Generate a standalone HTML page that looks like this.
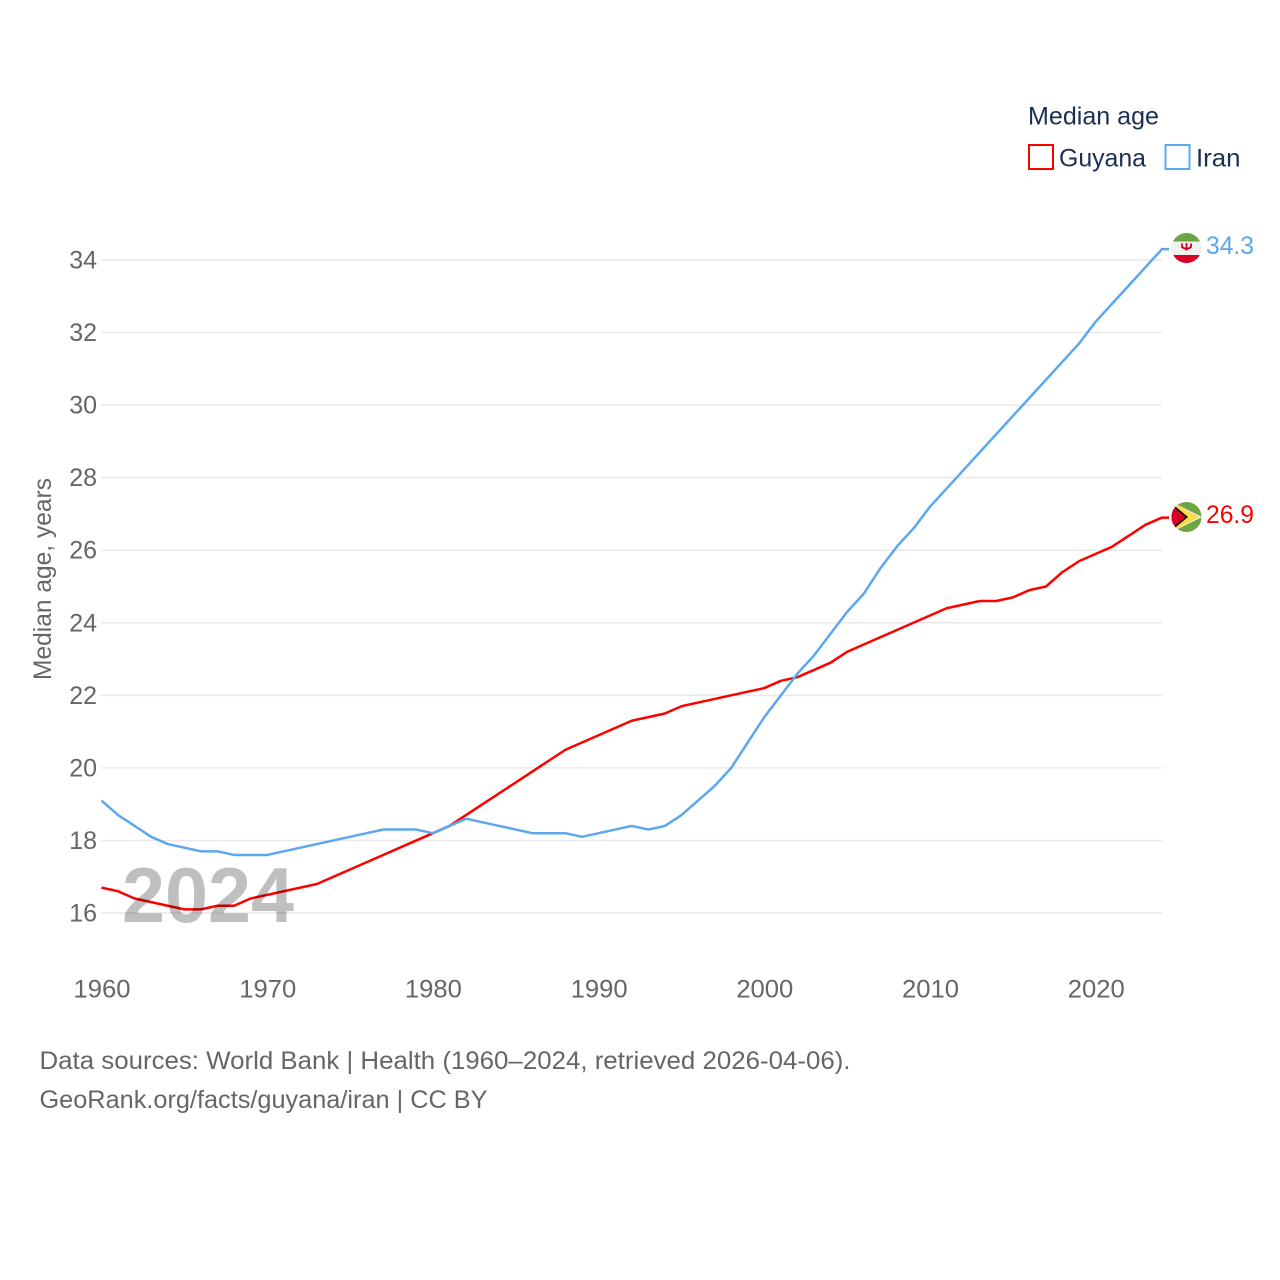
<!DOCTYPE html>
<html lang="en">
<head>
<meta charset="utf-8">
<title>Median age: Guyana and Iran</title>
<style>
html,body{margin:0;padding:0;background:#fff;}
svg{display:block;font-family:"Liberation Sans",sans-serif;}
</style>
</head>
<body>
<svg id="chart" xmlns="http://www.w3.org/2000/svg" width="1280" height="1280" viewBox="0 0 1280 1280">
  <defs>
    <clipPath id="clip-iran"><circle cx="1186.5" cy="248" r="15"/></clipPath>
    <clipPath id="clip-guyana"><circle cx="1186.5" cy="517" r="15"/></clipPath>
  </defs>
  <g id="grid"></g>
  <g id="y-ticks"></g>
  <g id="x-ticks"></g>
  <text transform="translate(51,680) rotate(-90)" font-size="25" fill="#666" textLength="202" lengthAdjust="spacingAndGlyphs">Median age, years</text>
  <g id="series"></g>
  <text x="122" y="922" font-size="78" font-weight="bold" fill="#000" fill-opacity="0.25" textLength="172" lengthAdjust="spacingAndGlyphs">2024</text>

  <g clip-path="url(#clip-iran)">
    <rect x="1171" y="233" width="31" height="31" fill="#f0f0f0"/>
    <rect x="1171" y="233" width="31" height="8.500" fill="#6da544"/>
    <rect x="1171" y="255" width="31" height="9" fill="#d80027"/>
    <path d="M1182 243.500v3.500q4.500 3.500 9 0v-3.500M1186.500 243v7.500" fill="none" stroke="#d80027" stroke-width="1.800"/>
  </g>
  <g clip-path="url(#clip-guyana)">
    <rect x="1171" y="502" width="31" height="31" fill="#6da544"/>
    <polygon points="1172,502 1202,517 1172,532" fill="#f0f0f0"/>
    <polygon points="1175,504 1199,517 1175,530" fill="#ffda44"/>
    <polygon points="1171,503 1188,517 1171,531" fill="#000"/>
    <polygon points="1171,505 1185.500,517 1171,529" fill="#d80027"/>
  </g>
  <text x="1206" y="254" font-size="25" fill="#5ba8ef" textLength="48" lengthAdjust="spacingAndGlyphs">34.3</text>
  <text x="1206" y="523" font-size="25" fill="#ff0000" textLength="48" lengthAdjust="spacingAndGlyphs">26.9</text>

  <g>
    <text x="1028" y="124.500" font-size="25" fill="#1a2f52" textLength="131" lengthAdjust="spacingAndGlyphs">Median age</text>
    <rect x="1029" y="145" width="24" height="24" fill="none" stroke="#ff0000" stroke-width="2"/>
    <text x="1059" y="166.500" font-size="25" fill="#1a2f52" textLength="87" lengthAdjust="spacingAndGlyphs">Guyana</text>
    <rect x="1165.500" y="145" width="24" height="24" fill="none" stroke="#5ba8ef" stroke-width="2"/>
    <text x="1196" y="166.500" font-size="25" fill="#1a2f52" textLength="44.500" lengthAdjust="spacingAndGlyphs">Iran</text>
  </g>

  <text x="39.500" y="1069" font-size="25" fill="#666" textLength="811" lengthAdjust="spacingAndGlyphs">Data sources: World Bank | Health (1960–2024, retrieved 2026-04-06).</text>
  <text x="39.500" y="1108" font-size="25" fill="#666" textLength="448" lengthAdjust="spacingAndGlyphs">GeoRank.org/facts/guyana/iran | CC BY</text>
</svg>
<script>
const years = [1960,1961,1962,1963,1964,1965,1966,1967,1968,1969,1970,1971,1972,1973,1974,1975,1976,1977,1978,1979,1980,1981,1982,1983,1984,1985,1986,1987,1988,1989,1990,1991,1992,1993,1994,1995,1996,1997,1998,1999,2000,2001,2002,2003,2004,2005,2006,2007,2008,2009,2010,2011,2012,2013,2014,2015,2016,2017,2018,2019,2020,2021,2022,2023,2024];
const guyanaValues = [16.7,16.6,16.4,16.3,16.2,16.1,16.1,16.2,16.2,16.4,16.5,16.6,16.7,16.8,17.0,17.2,17.4,17.6,17.8,18.0,18.2,18.4,18.7,19.0,19.3,19.6,19.9,20.2,20.5,20.7,20.9,21.1,21.3,21.4,21.5,21.7,21.8,21.9,22.0,22.1,22.2,22.4,22.5,22.7,22.9,23.2,23.4,23.6,23.8,24.0,24.2,24.4,24.5,24.6,24.6,24.7,24.9,25.0,25.4,25.7,25.9,26.1,26.4,26.7,26.9];
const iranValues = [19.1,18.7,18.4,18.1,17.9,17.8,17.7,17.7,17.6,17.6,17.6,17.7,17.8,17.9,18.0,18.1,18.2,18.3,18.3,18.3,18.2,18.4,18.6,18.5,18.4,18.3,18.2,18.2,18.2,18.1,18.2,18.3,18.4,18.3,18.4,18.7,19.1,19.5,20.0,20.7,21.4,22.0,22.6,23.1,23.7,24.3,24.8,25.5,26.1,26.6,27.2,27.7,28.2,28.7,29.2,29.7,30.2,30.7,31.2,31.7,32.3,32.8,33.3,33.8,34.3];
const yTickLabels = [16,18,20,22,24,26,28,30,32,34];
const xTickLabels = [1960,1970,1980,1990,2000,2010,2020];

const NS = 'http://www.w3.org/2000/svg';
function xScale(year) { return 101.5 + (year - 1960) * (1162 - 101.5) / 64; }
function yScale(value) { return 913 - (value - 16) * (913 - 260) / 18; }
function make(tag, parent, attrs) {
  const el = document.createElementNS(NS, tag);
  for (const k in attrs) el.setAttribute(k, attrs[k]);
  parent.appendChild(el);
  return el;
}

const gridGroup = document.getElementById('grid');
const yGroup = document.getElementById('y-ticks');
yTickLabels.forEach(function (v) {
  const gy = yScale(v);
  const line = make('line', gridGroup, { x1: 101, x2: 1162, y1: gy, y2: gy, stroke: '#e9e9e9', 'stroke-width': 1.5 });
  
  
  const label = make('text', yGroup, { x: 97, y: gy + 8.5, 'text-anchor': 'end', 'font-size': 25, fill: '#666' });
  
  
  label.textContent = String(v);
});

const xGroup = document.getElementById('x-ticks');
xTickLabels.forEach(function (v) {
  const label = make('text', xGroup, { x: xScale(v) + 0.5, y: 997.5, 'text-anchor': 'middle', 'font-size': 25, fill: '#666', textLength: 57, lengthAdjust: 'spacingAndGlyphs' });
  
  
  label.textContent = String(v);
});

const seriesGroup = document.getElementById('series');
function drawSeries(values, color, name) {
  const pts = values.map(function (v, i) { return xScale(years[i]).toFixed(2) + ',' + yScale(v).toFixed(2); });
  const lastY = yScale(values[values.length - 1]);
  pts.push('1169,' + lastY.toFixed(2));
  const line = make('polyline', seriesGroup, { points: pts.join(' '), fill: 'none', stroke: color, 'stroke-width': 2.5, 'stroke-linejoin': 'round' });
  
  
}
drawSeries(guyanaValues, '#ff0000', 'guyana-line');
drawSeries(iranValues, '#5ba8ef', 'iran-line');
</script>
</body>
</html>
